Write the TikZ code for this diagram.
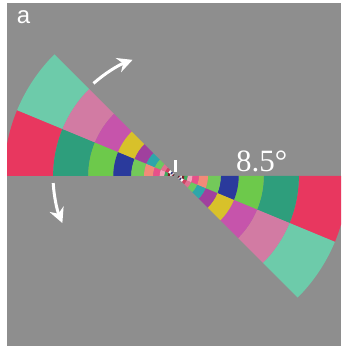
\documentclass[tikz,border=0pt]{standalone}
\usepackage{fontspec}
\setmainfont{Liberation Serif}
\newfontfamily\labelsans{Liberation Sans}
\usetikzlibrary{arrows.meta,calc}
\definecolor{bg}{RGB}{142,142,142}
\definecolor{cAa}{HTML}{E8375F}
\definecolor{cAb}{HTML}{2E9E7C}
\definecolor{cAc}{HTML}{6DC94B}
\definecolor{cAd}{HTML}{2A3A9C}
\definecolor{cAe}{HTML}{73C95A}
\definecolor{cAf}{HTML}{F28A78}
\definecolor{cAg}{HTML}{E8508A}
\definecolor{cAh}{HTML}{F4A0B8}
\definecolor{cAi}{HTML}{3FAA5E}
\definecolor{cAj}{HTML}{7A1F25}
\definecolor{cAk}{HTML}{E0E0E0}
\definecolor{cAl}{HTML}{C03050}
\definecolor{cAm}{HTML}{404040}
\definecolor{cBa}{HTML}{6DCBAA}
\definecolor{cBb}{HTML}{D27BA3}
\definecolor{cBc}{HTML}{C654AB}
\definecolor{cBd}{HTML}{D8C12A}
\definecolor{cBe}{HTML}{A0409E}
\definecolor{cBf}{HTML}{2EA6AA}
\definecolor{cBg}{HTML}{6CC860}
\definecolor{cBh}{HTML}{E07090}
\definecolor{cBi}{HTML}{D04060}
\definecolor{cBj}{HTML}{FFFFFF}
\definecolor{cBk}{HTML}{303080}
\definecolor{cBl}{HTML}{F0F0F0}
\definecolor{cBm}{HTML}{602020}
\tikzset{
  turnarrow/.style={white, line width=3pt, -{Stealth[length=15pt,width=15pt]}},
  marklabel/.style={text=white, inner sep=0pt}
}
\begin{document}
\begin{tikzpicture}[x=1pt,y=1pt]
\useasboundingbox (0,0) rectangle (344,350);
\fill[white] (0,0) rectangle (344,350);
\fill[bg] (7,4) rectangle (341,347);
\coordinate (C) at (176,174);
\begin{scope}
\clip (7,4) rectangle (341,347);
\foreach \rot in {0,180} {
\begin{scope}[shift={(C)}, rotate=\rot]
\foreach \k/\ca/\cb in {0/cAa/cBa,1/cAb/cBb,2/cAc/cBc,3/cAd/cBd,4/cAe/cBe,5/cAf/cBf,6/cAg/cBg,7/cAh/cBh,8/cAi/cBi,9/cAj/cBj,10/cAk/cBk,11/cAl/cBl,12/cAm/cBm} {
  \pgfmathsetmacro\ro{172/1.4^\k}
  \pgfmathsetmacro\ri{172/1.4^(\k+1)}
  \fill[\ca] (157.5:\ri) -- (157.5:\ro) arc[start angle=157.5,end angle=180,radius=\ro] -- (180:\ri) arc[start angle=180,end angle=157.5,radius=\ri] -- cycle;
  \fill[\cb] (135:\ri) -- (135:\ro) arc[start angle=135,end angle=157.5,radius=\ro] -- (157.5:\ri) arc[start angle=157.5,end angle=135,radius=\ri] -- cycle;
}
\end{scope}
}
\end{scope}
% white marker
\coordinate (m1) at (175,178);
\coordinate (m2) at (175,190);
\draw[white, line width=3pt] (m1) -- (m2);
% arrows
\coordinate (a1) at ($(C)+(131.7:124)$);
\coordinate (a2) at ($(C)+(183.3:123)$);
\draw[turnarrow] (a1) arc[start angle=131.7, end angle=110.5, radius=124];
\draw[turnarrow] (a2) arc[start angle=183.3, end angle=202.5, radius=123];
% labels
\node[marklabel, font=\labelsans\fontsize{24}{24}\selectfont] (lab) at (23.5,332.5) {a};
\node[marklabel, anchor=base west, font=\fontsize{31}{31}\selectfont] (ang) at (236,178) {8.5°};
\end{tikzpicture}
\end{document}
